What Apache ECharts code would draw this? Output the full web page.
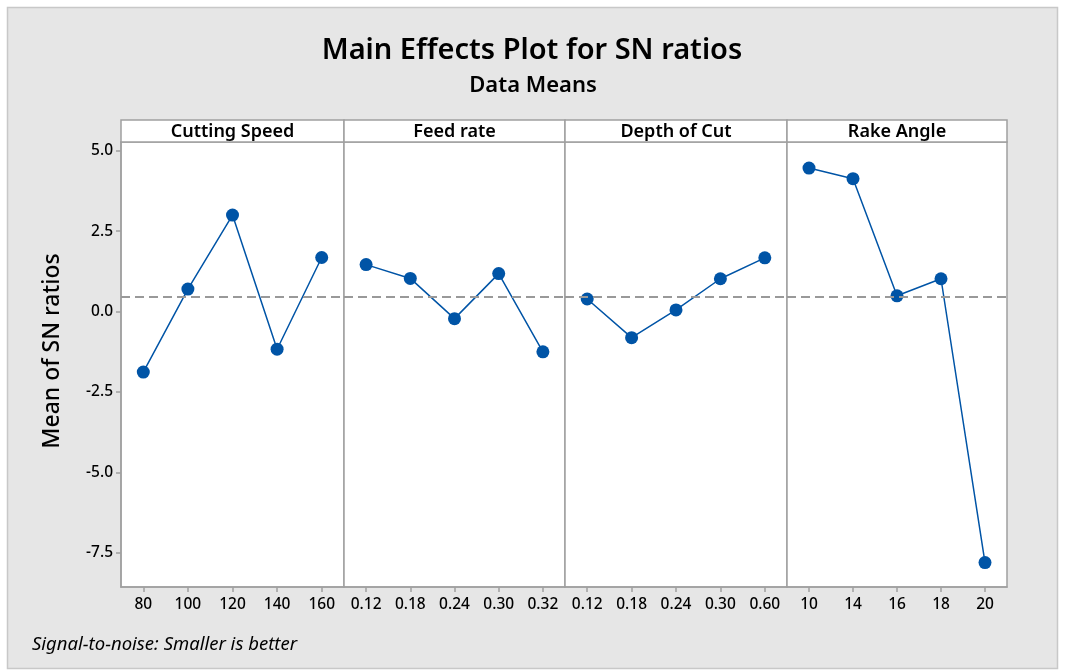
<!DOCTYPE html>
<html>
<head>
<meta charset="utf-8">
<script src="https://cdn.jsdelivr.net/npm/echarts@6/dist/echarts.min.js"></script>
<style>
html,body{margin:0;padding:0;background:#ffffff;}
#chart{width:1067px;height:671px;}
</style>
</head>
<body>
<div id="chart"></div>
<script>
const factors = ['Cutting Speed', 'Feed rate', 'Depth of Cut', 'Rake Angle'];
const levelsCutting = ['80', '100', '120', '140', '160'];
const levelsFeed = ['0.12', '0.18', '0.24', '0.30', '0.32'];
const levelsDepth = ['0.12', '0.18', '0.24', '0.30', '0.60'];
const levelsRake = ['10', '14', '16', '18', '20'];
const snCutting = [-1.88, 0.70, 3.00, -1.17, 1.68];
const snFeed = [1.46, 1.03, -0.22, 1.18, -1.25];
const snDepth = [0.39, -0.81, 0.05, 1.02, 1.67];
const snRake = [4.46, 4.13, 0.49, 1.02, -7.80];
const overallMean = 0.47;
const yTicks = [-7.5, -5.0, -2.5, 0.0, 2.5, 5.0];

const levels = [levelsCutting, levelsFeed, levelsDepth, levelsRake];
const values = [snCutting, snFeed, snDepth, snRake];

const panelLeft = [121, 344, 565, 787];
const panelRight = [344, 565, 787, 1007];
const plotTop = 142, plotBottom = 587, stripTop = 120;
const yMin = -8.56, yMax = 5.27;
const FONT = '"Noto Sans", "Open Sans", sans-serif';
const gridColor = '#a0a0a0';
const blue = '#0054a6';

const grids = [], xAxes = [], yAxes = [], series = [], graphics = [];

graphics.push({
  type: 'rect', z: -10,
  shape: { x: 7.5, y: 7.5, width: 1050, height: 661 },
  style: { fill: '#e6e6e6', stroke: '#c8c8c8', lineWidth: 1.5 }
});

factors.forEach((f, i) => {
  const w = panelRight[i] - panelLeft[i];
  grids.push({
    left: panelLeft[i], top: plotTop, width: w, height: plotBottom - plotTop,
    show: true, backgroundColor: '#ffffff', borderColor: gridColor, borderWidth: 1.5
  });
  xAxes.push({
    type: 'category', gridIndex: i, data: levels[i], boundaryGap: true,
    axisLine: { show: true, onZero: false, lineStyle: { color: gridColor, width: 1.5 } },
    axisTick: { show: true, alignWithLabel: true, length: 5, lineStyle: { color: gridColor, width: 1.5 } },
    axisLabel: { color: '#000', fontSize: 15.5, fontWeight: 500, fontFamily: FONT, margin: 10 },
    splitLine: { show: false }
  });
  yAxes.push({
    type: 'value', gridIndex: i, min: yMin, max: yMax,
    axisLine: { show: i === 0, lineStyle: { color: gridColor, width: 1.5 } },
    axisTick: { show: i === 0, length: 5, customValues: yTicks, lineStyle: { color: gridColor, width: 1.5 } },
    axisLabel: { show: i === 0, customValues: yTicks, color: '#000', fontSize: 15.5, fontWeight: 500, fontFamily: FONT, margin: 8,
      formatter: v => v.toFixed(1) },
    splitLine: { show: false }
  });
  series.push({
    type: 'line', xAxisIndex: i, yAxisIndex: i, data: values[i],
    symbol: 'circle', symbolSize: 13,
    itemStyle: { color: blue },
    lineStyle: { color: blue, width: 1.5 },
    animation: false,
    markLine: {
      silent: true, symbol: 'none', animation: false,
      label: { show: false },
      lineStyle: { color: '#999999', type: [9, 5], width: 2 },
      data: [{ yAxis: overallMean }]
    },
    z: 3
  });
  graphics.push({
    type: 'rect', z: 5,
    shape: { x: panelLeft[i], y: stripTop, width: w, height: plotTop - stripTop },
    style: { fill: '#ffffff', stroke: gridColor, lineWidth: 1.5 }
  });
  graphics.push({
    type: 'text', z: 6,
    x: (panelLeft[i] + panelRight[i]) / 2, y: (stripTop + plotTop) / 2 + 1,
    style: { text: f, fill: '#000', font: '600 18px ' + FONT, textAlign: 'center', textVerticalAlign: 'middle' }
  });
});

graphics.push({
  type: 'text', z: 6,
  x: 532, y: 51,
  style: { text: 'Main Effects Plot for SN ratios', fill: '#000', font: '600 29px ' + FONT, textAlign: 'center', textVerticalAlign: 'middle' }
});
graphics.push({
  type: 'text', z: 6,
  x: 533, y: 86,
  style: { text: 'Data Means', fill: '#000', font: '600 22px ' + FONT, textAlign: 'center', textVerticalAlign: 'middle' }
});
graphics.push({
  type: 'text', z: 6,
  x: 52, y: 351, rotation: Math.PI / 2,
  style: { text: 'Mean of SN ratios', fill: '#000', font: '500 23px ' + FONT, textAlign: 'center', textVerticalAlign: 'middle' }
});
graphics.push({
  type: 'text', z: 6,
  x: 32, y: 645,
  style: { text: 'Signal-to-noise: Smaller is better', fill: '#000', font: 'italic 18.5px ' + FONT, textAlign: 'left', textVerticalAlign: 'middle' }
});

const chart = echarts.init(document.getElementById('chart'), null, { renderer: 'canvas' });
chart.setOption({
  backgroundColor: '#ffffff',
  animation: false,
  grid: grids,
  xAxis: xAxes,
  yAxis: yAxes,
  series: series,
  graphic: graphics
});
</script>
</body>
</html>
